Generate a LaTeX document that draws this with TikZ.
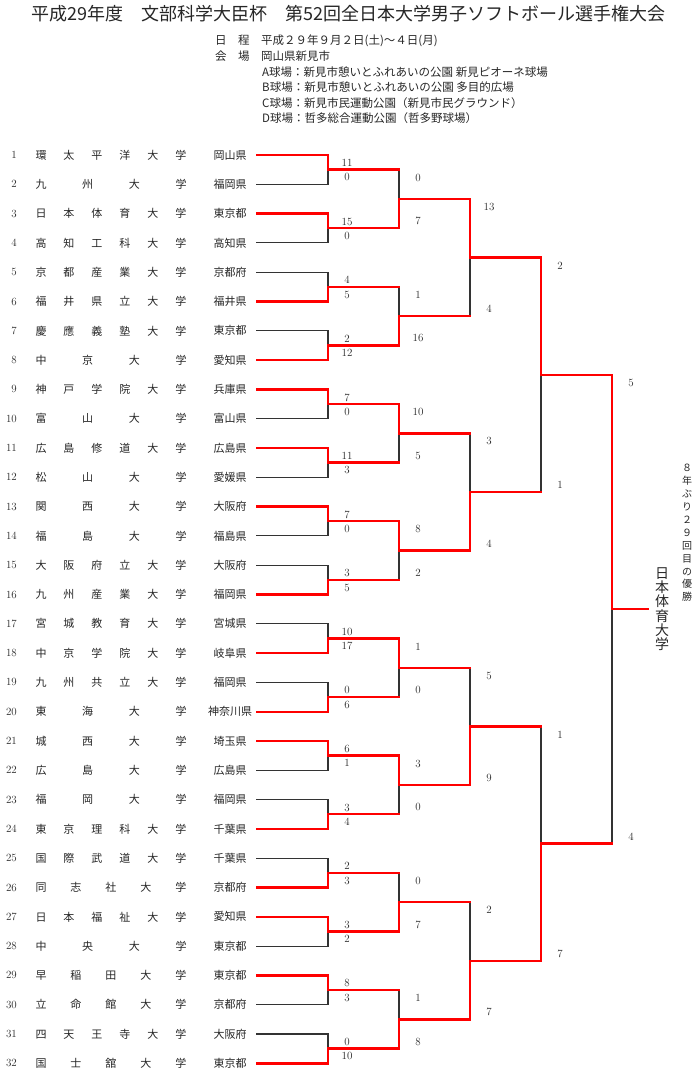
\documentclass[tikz,border=0pt]{standalone}
\usepackage{fontspec}
\newfontfamily\jpfont{Noto Sans CJK JP}
\usetikzlibrary{calc,positioning}

% spread the characters of a name over a fixed width
\newcommand{\spreadname}[1]{\hbox to 151pt{\expandafter\spreadfirst#1\relax}}
\def\spreadfirst#1{#1\spreadrest}
\def\spreadrest#1{\ifx\relax#1\else\hfill#1\expandafter\spreadrest\fi}

\tikzset{
  winline/.style={red, line width=2.4pt, line cap=rect},
  loseline/.style={black!80, line width=1.1pt, line cap=rect},
  titletext/.style={font=\jpfont\fontsize{18}{18}\selectfont, text=black!85, inner sep=0pt},
  headtext/.style={font=\jpfont\fontsize{11.5}{11.5}\selectfont, text=black!85, inner sep=0pt},
  teamtext/.style={font=\jpfont\fontsize{11}{11}\selectfont, text=black!85, inner sep=0pt},
  numtext/.style={font=\fontsize{11}{11}\selectfont, text=black!85, inner sep=0pt},
  scoretext/.style={font=\fontsize{11}{11}\selectfont, text=black!85, inner sep=0pt},
  champtext/.style={font=\jpfont\fontsize{14}{14.2}\selectfont, text=black!85, align=center, inner sep=0pt},
  notetext/.style={font=\jpfont\fontsize{10}{12.9}\selectfont, text=black!85, align=center, inner sep=0pt}
}

% round/match/top score/bottom score/winner
\def\results{1/1/11/0/a,1/2/15/0/a,1/3/4/5/b,1/4/2/12/b,1/5/7/0/a,1/6/11/3/a,1/7/7/0/a,1/8/3/5/b,
  1/9/10/17/b,1/10/0/6/b,1/11/6/1/a,1/12/3/4/b,1/13/2/3/b,1/14/3/2/a,1/15/8/3/a,1/16/0/10/b,
  2/1/0/7/b,2/2/1/16/b,2/3/10/5/a,2/4/8/2/a,2/5/1/0/a,2/6/3/0/a,2/7/0/7/b,2/8/1/8/b,
  3/1/13/4/a,3/2/3/4/b,3/3/5/9/b,3/4/2/7/b,
  4/1/2/1/a,4/2/1/7/b,
  5/1/5/4/a}

\begin{document}
\begin{tikzpicture}[x=1pt,y=-1pt]
\useasboundingbox (0,0) rectangle (700,1075);

% heading
\node[titletext, anchor=west] (title) at (31,14) {平成29年度　文部科学大臣杯　第52回全日本大学男子ソフトボール選手権大会};
\node[headtext, anchor=west] (date) at (215,41) {日　程　平成２９年９月２日(土)～４日(月)};
\node[headtext, anchor=west] (place) at (215,56.5) {会　場　岡山県新見市};
\node[headtext, anchor=west] (fielda) at (262,72) {A球場：新見市憩いとふれあいの公園 新見ピオーネ球場};
\node[headtext, anchor=west] (fieldb) at (262,87.5) {B球場：新見市憩いとふれあいの公園 多目的広場};
\node[headtext, anchor=west] (fieldc) at (262,103) {C球場：新見市民運動公園（新見市民グラウンド）};
\node[headtext, anchor=west] (fieldd) at (262,118.5) {D球場：哲多総合運動公園（哲多野球場）};

% teams
\foreach \i/\uni/\pref in {1/環太平洋大学/岡山県,2/九州大学/福岡県,3/日本体育大学/東京都,4/高知工科大学/高知県,
  5/京都産業大学/京都府,6/福井県立大学/福井県,7/慶應義塾大学/東京都,8/中京大学/愛知県,
  9/神戸学院大学/兵庫県,10/富山大学/富山県,11/広島修道大学/広島県,12/松山大学/愛媛県,
  13/関西大学/大阪府,14/福島大学/福島県,15/大阪府立大学/大阪府,16/九州産業大学/福岡県,
  17/宮城教育大学/宮城県,18/中京学院大学/岐阜県,19/九州共立大学/福岡県,20/東海大学/神奈川県,
  21/城西大学/埼玉県,22/広島大学/広島県,23/福岡大学/福岡県,24/東京理科大学/千葉県,
  25/国際武道大学/千葉県,26/同志社大学/京都府,27/日本福祉大学/愛知県,28/中央大学/東京都,
  29/早稲田大学/東京都,30/立命館大学/京都府,31/四天王寺大学/大阪府,32/国士舘大学/東京都} {
  \pgfmathsetmacro\ty{155+(\i-1)*29.3}
  \coordinate (n0-\i) at (257,\ty);
  \node[numtext, anchor=east] (no\i) at (17,\ty) {\i};
  \node[teamtext] (uni\i) at (111,\ty) {\spreadname{\uni}};
  \node[teamtext] (pref\i) at (230,\ty) {\pref};
}

% junctions of the bracket
\foreach \rd in {1,...,5} {
  \pgfmathtruncatemacro\pv{\rd-1}
  \pgfmathtruncatemacro\nm{2^(5-\rd)}
  \foreach \mk in {1,...,\nm} {
    \pgfmathtruncatemacro\ca{2*\mk-1}
    \pgfmathtruncatemacro\cb{2*\mk}
    \coordinate (n\rd-\mk) at ($(n\pv-\ca)!.5!(n\pv-\cb)+(71,0)$);
  }
}

% losing lines first
\foreach \rd/\mk/\sa/\sb/\w in \results {
  \pgfmathtruncatemacro\pv{\rd-1}
  \pgfmathtruncatemacro\ca{2*\mk-1}
  \pgfmathtruncatemacro\cb{2*\mk}
  \if\w a\edef\lo{\cb}\else\edef\lo{\ca}\fi
  \draw[loseline] (n\pv-\lo) -| (n\rd-\mk);
}

% winning lines and scores
\foreach \rd/\mk/\sa/\sb/\w in \results {
  \pgfmathtruncatemacro\pv{\rd-1}
  \pgfmathtruncatemacro\ca{2*\mk-1}
  \pgfmathtruncatemacro\cb{2*\mk}
  \if\w a\edef\wi{\ca}\edef\lo{\cb}\else\edef\wi{\cb}\edef\lo{\ca}\fi
  \ifnum\rd>1 \draw[winline] (n\pv-\lo) -- (n\pv-\lo -| n\rd-\mk);\fi
  \draw[winline] (n\pv-\wi) -| (n\rd-\mk);
  \node[scoretext] (s\rd-\mk-a) at ($(n\pv-\ca -| n\rd-\mk)+(19,8)$) {\sa};
  \node[scoretext] (s\rd-\mk-b) at ($(n\pv-\cb -| n\rd-\mk)+(19,-7)$) {\sb};
}

% champion
\coordinate (champ) at ($(n5-1)+(36,0)$);
\draw[winline] (n5-1) -- (champ);
\node[champtext] (champname) at ($(champ)+(14,0)$) {日\\本\\体\\育\\大\\学};
\node[notetext] (note) at (687,533) {８\\年\\ぶ\\り\\２\\９\\回\\目\\の\\優\\勝};
\end{tikzpicture}
\end{document}
